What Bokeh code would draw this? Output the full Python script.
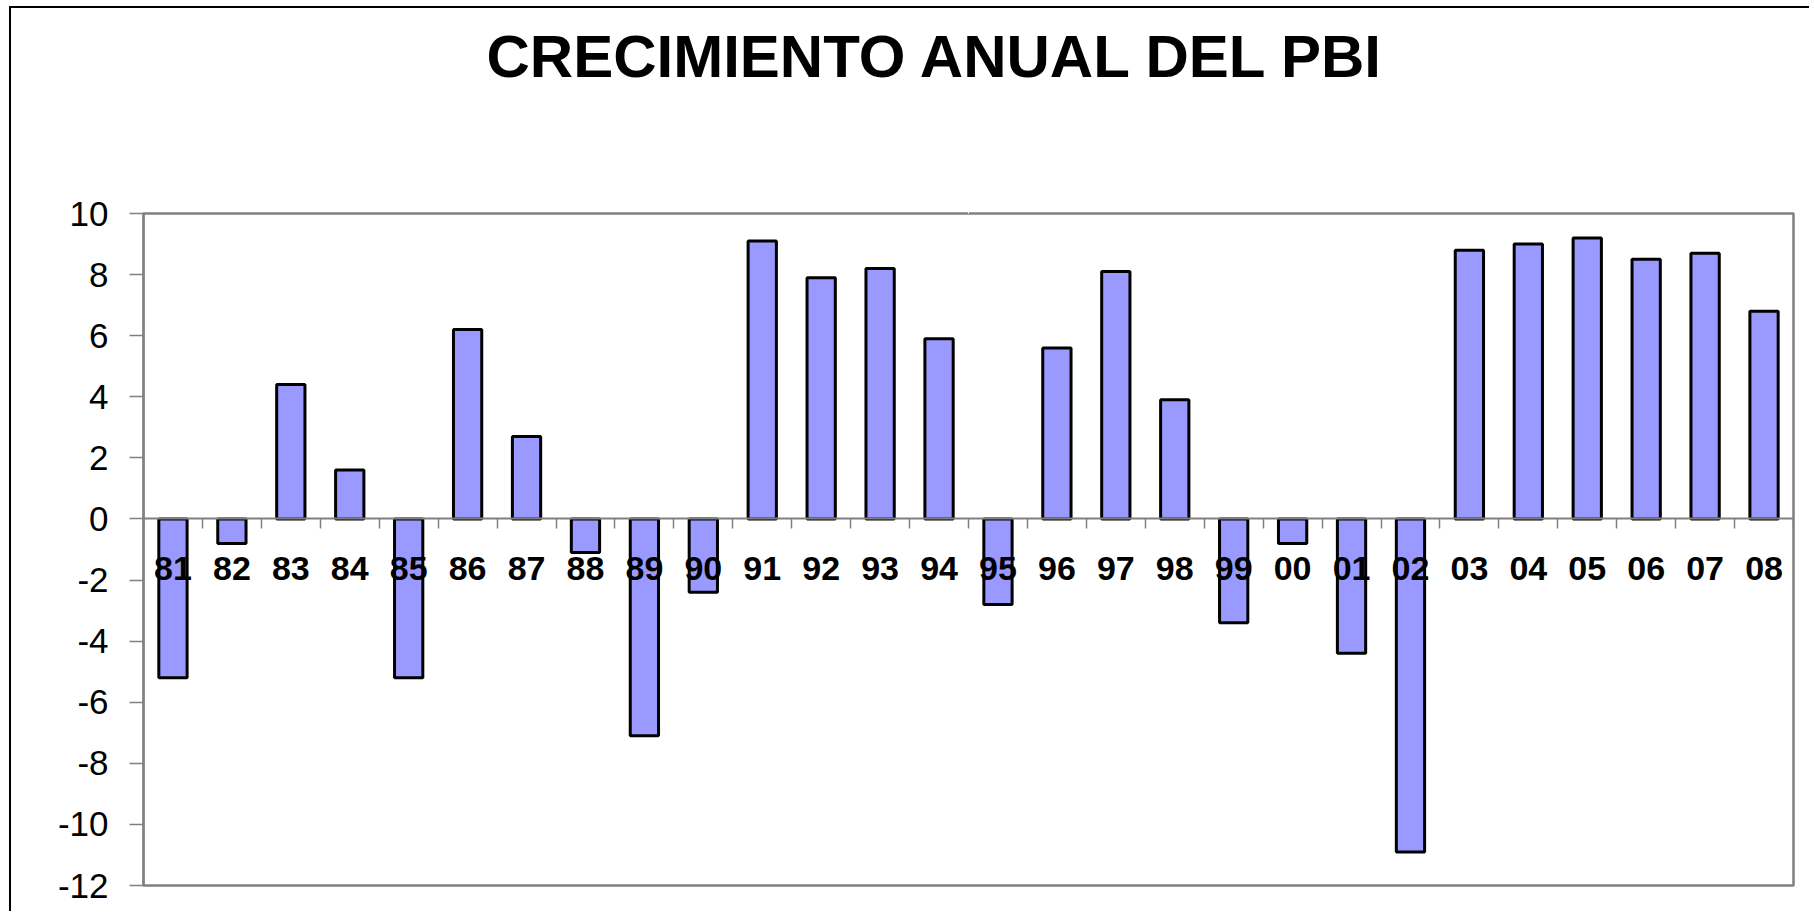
from bokeh.plotting import figure
from bokeh.models import LinearAxis, FixedTicker, ColumnDataSource, Range1d, Title
from bokeh.core.properties import value
from bokeh.embed import file_html
from bokeh.resources import INLINE

# ---- data ----
years = ["81", "82", "83", "84", "85", "86", "87", "88", "89", "90",
         "91", "92", "93", "94", "95", "96", "97", "98", "99", "00",
         "01", "02", "03", "04", "05", "06", "07", "08"]
growth = [-5.2, -0.8, 4.4, 1.6, -5.2, 6.2, 2.7, -1.1, -7.1, -2.4,
          9.1, 7.9, 8.2, 5.9, -2.8, 5.6, 8.1, 3.9, -3.4, -0.8,
          -4.4, -10.9, 8.8, 9.0, 9.2, 8.5, 8.7, 6.8]
y_ticks = [-12, -10, -8, -6, -4, -2, 0, 2, 4, 6, 8, 10]
title_text = "CRECIMIENTO ANUAL DEL PBI"

n = len(years)
centers = [i + 0.5 for i in range(n)]
bounds = [i for i in range(n + 1)]

src = ColumnDataSource(dict(x=centers, top=growth, bottom=[0] * n,
                            label=years, zero=[0] * n))

FONT = "Liberation Sans"
GRAY = "#808080"

p = figure(width=1800, height=905, output_backend="svg", toolbar_location=None,
           x_range=Range1d(0, n), y_range=Range1d(y_ticks[0], y_ticks[-1]),
           min_border_left=132, min_border_right=18, min_border_bottom=28,
           min_border_top=205, x_axis_type=None, y_axis_type=None)
p.title = None
p.styles = {"margin-left": "9px", "margin-top": "6px",
            "border-left": "2px solid black", "border-top": "2px solid black"}
p.background_fill_color = "white"
p.border_fill_color = "white"
p.outline_line_color = GRAY
p.outline_line_width = 2.5

# blank spacer between the frame and the title: one white tick, no labels
spacer = LinearAxis(ticker=FixedTicker(ticks=[n / 2]))
spacer.axis_line_color = None
spacer.major_tick_line_color = "white"
spacer.major_tick_line_width = 1
spacer.minor_tick_line_color = None
spacer.major_tick_out = 124
spacer.major_tick_in = 0
spacer.major_label_standoff = 0
spacer.major_label_text_color = None
spacer.major_label_text_font_size = "1px"
p.add_layout(spacer, "above")

# title (outside the spacer)
title = Title(text=title_text, text_font=FONT, text_font_size="60px",
              text_font_style="bold", text_color="black", align="left",
              offset=343, vertical_align="bottom", standoff=0)
p.add_layout(title, "above")

# y axis
yax = LinearAxis(ticker=FixedTicker(ticks=y_ticks),
                 major_label_overrides={t: str(t) for t in y_ticks})
yax.axis_line_color = GRAY
yax.axis_line_width = 2
yax.major_tick_out = 14
yax.major_tick_in = 0
yax.major_tick_line_color = GRAY
yax.major_tick_line_width = 1.5
yax.minor_tick_line_color = None
yax.major_label_standoff = 21
yax.major_label_text_font = FONT
yax.major_label_text_font_size = "35px"
yax.major_label_text_color = "black"
p.add_layout(yax, "left")

# horizontal dashed grid lines
p.ygrid.ticker = FixedTicker(ticks=y_ticks)
p.ygrid.grid_line_color = "black"
p.ygrid.grid_line_dash = "9 9"
p.ygrid.grid_line_width = 1.3
p.ygrid.grid_line_alpha = 0.9

# bars
p.vbar(x="x", top="top", bottom="bottom", width=0.48, source=src,
       fill_color="#9999FF", line_color="black", line_width=3)

# x axis at zero with ticks at category boundaries (labels not drawn)
xax = LinearAxis(ticker=FixedTicker(ticks=bounds), fixed_location=0)
xax.axis_line_color = GRAY
xax.axis_line_width = 2
xax.major_tick_out = 10
xax.major_tick_in = 0
xax.major_tick_line_color = GRAY
xax.major_tick_line_width = 1.5
xax.minor_tick_line_color = None
xax.major_label_text_color = None
xax.major_label_text_font_size = "8px"
xax.major_label_standoff = 0
p.add_layout(xax, "below")

# category labels just under the zero line
p.text(x="x", y="zero", text="label", source=src, text_align="center",
       text_baseline="alphabetic", y_offset=50, text_font=value(FONT),
       text_font_size="34px", text_font_style="bold", text_color="black")

open("out.html", "w").write(file_html(p, INLINE))
